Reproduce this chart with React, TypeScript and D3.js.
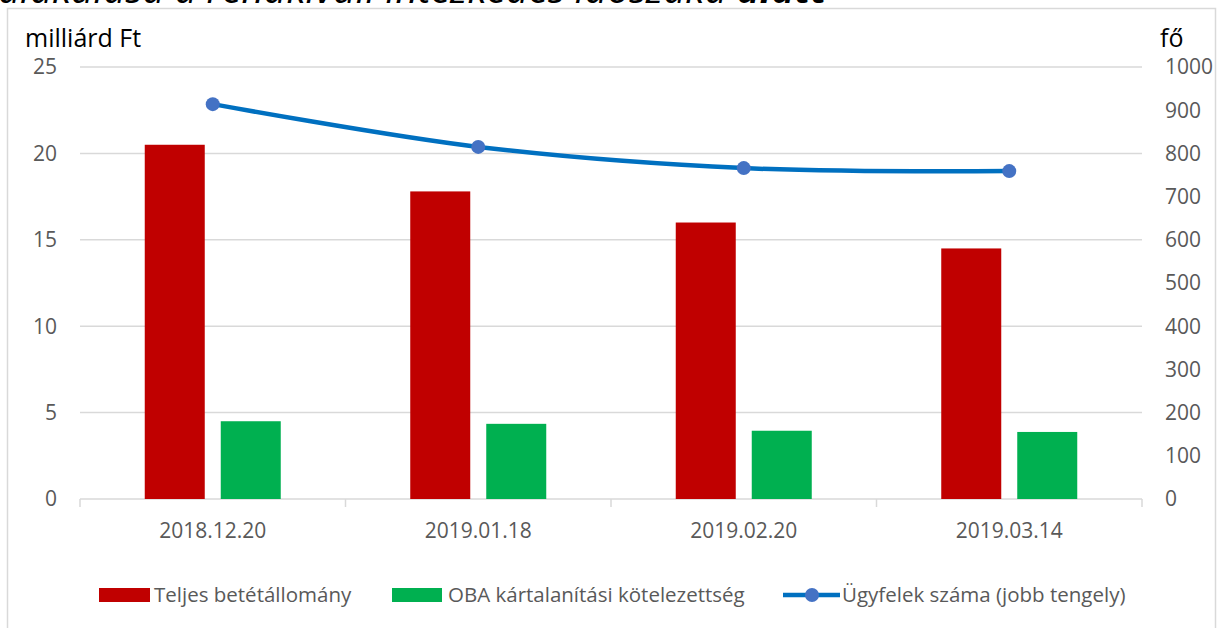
import * as d3 from 'd3';

// Chart data
const dates = ['2018.12.20', '2019.01.18', '2019.02.20', '2019.03.14'];
const totalDeposits = [20.5, 17.8, 16.0, 14.5];
const obaLiability = [4.5, 4.35, 3.95, 3.88];
const clients = [914, 815, 766, 759];

const leftTicks = [0, 5, 10, 15, 20, 25];
const rightTicks = [0, 100, 200, 300, 400, 500, 600, 700, 800, 900, 1000];

const FONT = '"Open Sans", sans-serif';
const RED = '#c00000';
const GREEN = '#00b050';
const LINE = '#0070c0';
const MARKER = '#4472c4';
const GRID = '#d9d9d9';
const LABEL = '#595959';

export default function App() {
  const width = 1220;
  const height = 628;
  const plot = { left: 80, right: 1142, top: 67, bottom: 499 };

  const x = d3.scaleBand().domain(dates).range([plot.left, plot.right]);
  const yLeft = d3.scaleLinear().domain([0, 25]).range([plot.bottom, plot.top]);
  const yRight = d3.scaleLinear().domain([0, 1000]).range([plot.bottom, plot.top]);

  const barW = 60;
  const gap = 16;
  const center = (d: string) => (x(d) ?? 0) + x.bandwidth() / 2;

  const line = d3
    .line<number>()
    .x((_, i) => center(dates[i]))
    .y((d) => yRight(d))
    .curve(d3.curveCatmullRom.alpha(0.5));

  const tickXs = [plot.left, ...dates.map((d) => (x(d) ?? 0) + x.bandwidth())];

  return (
    <svg
      width={width}
      height={height}
      style={{ position: 'absolute', left: 0, top: 0, background: '#fff' }}
      fontFamily={FONT}
    >
      {/* caption above the chart frame, cut off by the page edge as in the source */}
      <text x={-2} y={3} fontSize={39} fontStyle="italic" fill="#000">
        alakulása a rendkívüli intézkedés időszaka <tspan fontWeight="bold">alatt</tspan>
      </text>

      {/* chart frame */}
      <rect x={7.5} y={8.5} width={1208} height={640} fill="#fff" stroke={GRID} strokeWidth={1.5} />

      {/* gridlines */}
      {leftTicks.map((t) => (
        <line key={t} x1={plot.left} x2={plot.right} y1={yLeft(t)} y2={yLeft(t)} stroke={GRID} strokeWidth={1.5} />
      ))}

      {/* x-axis ticks */}
      {tickXs.map((tx, i) => (
        <line key={i} x1={tx} x2={tx} y1={plot.bottom} y2={plot.bottom + 8} stroke={GRID} strokeWidth={1.5} />
      ))}

      {/* bars */}
      {dates.map((d, i) => (
        <g key={d}>
          <rect
            x={center(d) - gap / 2 - barW}
            y={yLeft(totalDeposits[i])}
            width={barW}
            height={plot.bottom - yLeft(totalDeposits[i])}
            fill={RED}
          />
          <rect
            x={center(d) + gap / 2}
            y={yLeft(obaLiability[i])}
            width={barW}
            height={plot.bottom - yLeft(obaLiability[i])}
            fill={GREEN}
          />
        </g>
      ))}

      {/* client line */}
      <path d={line(clients) ?? ''} fill="none" stroke={LINE} strokeWidth={4.5} strokeLinecap="round" />
      {clients.map((c, i) => (
        <circle key={i} cx={center(dates[i])} cy={yRight(c)} r={7} fill={MARKER} />
      ))}

      {/* left axis labels */}
      {leftTicks.map((t) => (
        <text key={t} x={57} y={yLeft(t)} dy="0.35em" textAnchor="end" fontSize={21} fill={LABEL}>
          {t}
        </text>
      ))}
      <text x={25} y={47} fontSize={25} fill="#000">milliárd Ft</text>

      {/* right axis labels */}
      {rightTicks.map((t) => (
        <text key={t} x={1165} y={yRight(t)} dy="0.35em" fontSize={21} fill={LABEL}>
          {t}
        </text>
      ))}
      <text x={1160} y={47} fontSize={25} fill="#000">fő</text>

      {/* category labels */}
      {dates.map((d) => (
        <text key={d} x={center(d)} y={538} textAnchor="middle" fontSize={21} fill={LABEL}>
          {d}
        </text>
      ))}

      {/* legend */}
      <g fontSize={20.5} fill={LABEL}>
        <rect x={99} y={588} width={51} height={14} fill={RED} />
        <text x={154} y={602}>Teljes betétállomány</text>
        <rect x={392} y={588} width={50} height={14} fill={GREEN} />
        <text x={448} y={602}>OBA kártalanítási kötelezettség</text>
        <line x1={783} x2={840} y1={595} y2={595} stroke={LINE} strokeWidth={4.5} />
        <circle cx={812} cy={595} r={7} fill={MARKER} />
        <text x={842} y={602}>Ügyfelek száma (jobb tengely)</text>
      </g>
    </svg>
  );
}
